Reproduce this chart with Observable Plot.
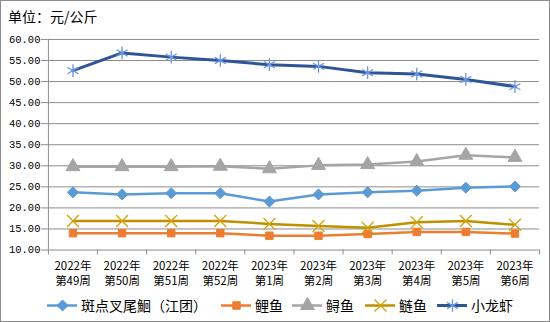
<!DOCTYPE html>
<html><head><meta charset="utf-8">
<script src="https://cdn.jsdelivr.net/npm/d3@7"></script>
<script src="https://cdn.jsdelivr.net/npm/@observablehq/plot@0.6"></script>
<style>
body{margin:0;background:#fff;}
#wrap{position:relative;width:550px;height:322px;box-sizing:border-box;border:1px solid #8c8c8c;overflow:hidden;font-family:"Noto Sans CJK SC",sans-serif;}
#chart{position:absolute;left:-1px;top:-1px;}
#title{position:absolute;left:7px;top:5px;font-size:14px;color:#000;}
#legend{position:absolute;left:0;top:294px;width:550px;height:20px;font-size:14px;color:#000;}
.item{position:absolute;top:0;display:flex;align-items:center;height:20px;}
.item svg{margin-right:4px;}
</style></head>
<body><div id="wrap"><div id="chart"></div><div id="title">单位：元/公斤</div><div id="legend"></div></div>
<script>
const weeks = ["2022年\n第49周","2022年\n第50周","2022年\n第51周","2022年\n第52周","2023年\n第1周","2023年\n第2周","2023年\n第3周","2023年\n第4周","2023年\n第5周","2023年\n第6周"];
const seriesNames = ["斑点叉尾鮰（江团）","鲤鱼","鲟鱼","鲢鱼","小龙虾"];
const catfish = [23.7,23.2,23.5,23.5,21.5,23.2,23.7,24.1,24.8,25.1];
const carp = [14.0,14.0,14.0,14.0,13.4,13.4,13.8,14.3,14.3,13.9];
const sturgeon = [29.8,29.8,29.8,29.9,29.3,30.1,30.3,31.0,32.5,32.0];
const silverCarp = [16.9,16.9,16.9,16.9,16.2,15.7,15.3,16.6,16.9,16.0];
const crayfish = [52.6,56.8,55.8,55.0,54.0,53.6,52.1,51.8,50.5,48.8];
const yTicks = [10,15,20,25,30,35,40,45,50,55,60];

const valueArrays = [catfish, carp, sturgeon, silverCarp, crayfish];
const styles = [
  {line:"#5B9BD5", mfill:"#5B9BD5", mstroke:"#5B9BD5", symbol:"diamond2", r:5, sw:2.5},
  {line:"#ED7D31", mfill:"#ED7D31", mstroke:"#ED7D31", symbol:"square", r:4.2, sw:2.5},
  {line:"#A5A5A5", mfill:"#A5A5A5", mstroke:"#A5A5A5", symbol:"triangle", r:5.2, sw:2.5},
  {line:"#BF9000", mfill:"none", mstroke:"#D4A20A", symbol:"times", r:5.5, sw:2.5},
  {line:"#2F5597", mfill:"none", mstroke:"#6A95E0", symbol:"asterisk", r:6, sw:3}
];
const data = [];
valueArrays.forEach((arr, s) => arr.forEach((v, i) => data.push({s, name: seriesNames[s], i: i + 0.5, v})));

const marks = [
  Plot.ruleY(yTicks, {y: d => d, stroke: "#8c8c8c", strokeWidth: 1, strokeOpacity: 1}),
  Plot.ruleY(yTicks, {y: d => d, x1: 0, x2: 0, insetLeft: -7, stroke: "#8c8c8c"}),
  Plot.ruleX([0], {x: d => d, stroke: "#8c8c8c", y1: 10, y2: 60}),
  Plot.ruleX(d3.range(0, 11), {x: d => d, y1: 10, y2: 10, stroke: "#8c8c8c", insetBottom: -5}),
  Plot.text(yTicks, {x: 0, y: d => d, text: d => d.toFixed(2), textAnchor: "end", dx: -8, fontSize: 10.5, fontFamily: "'Liberation Mono', 'DejaVu Sans Mono', monospace", fill: "#000"}),
  Plot.text(weeks, {x: (d, i) => i + 0.5, y: () => 10, text: d => d, dy: 23, fontSize: 11.5, lineHeight: 1.25, fill: "#000"})
];
styles.forEach((st, s) => {
  const sub = data.filter(d => d.s === s);
  marks.push(Plot.line(sub, {x: "i", y: "v", stroke: st.line, strokeWidth: st.sw, curve: "linear"}));
});
styles.forEach((st, s) => {
  const sub = data.filter(d => d.s === s);
  marks.push(Plot.dot(sub, {x: "i", y: "v", symbol: () => st.symbol, r: st.r, fill: st.mfill, stroke: st.mstroke, strokeWidth: st.mfill === "none" ? 1.3 : 1}));
});

const chart = Plot.plot({
  width: 550, height: 322,
  marginLeft: 48, marginRight: 10, marginTop: 39, marginBottom: 72,
  x: {type: "linear", domain: [0, 10], axis: null},
  y: {type: "linear", domain: [10, 60], axis: null},
  symbol: {type: "identity"},
  style: {fontFamily: "'Noto Sans CJK SC', sans-serif", background: "transparent", overflow: "visible"},
  marks
});
document.getElementById("chart").appendChild(chart);

const legendX = [46, 220, 291, 364, 436];
const leg = document.getElementById("legend");
styles.forEach((st, s) => {
  const div = document.createElement("div");
  div.className = "item";
  div.style.left = legendX[s] + "px";
  const sw = Plot.plot({
    width: 30, height: 20, margin: 0,
    x: {type: "identity", axis: null}, y: {type: "identity", axis: null},
    symbol: {type: "identity"},
    style: {background: "transparent", overflow: "visible"},
    marks: [
      Plot.ruleY([10], {y: d => d, x1: () => 0, x2: () => 30, stroke: st.line, strokeWidth: st.sw}),
      Plot.dot([0], {x: () => 15, y: () => 10, symbol: () => st.symbol, r: st.r, fill: st.mfill, stroke: st.mstroke, strokeWidth: st.mfill === "none" ? 1.3 : 1})
    ]
  });
  div.appendChild(sw);
  const span = document.createElement("span");
  span.textContent = seriesNames[s];
  div.appendChild(span);
  leg.appendChild(div);
});
</script></body></html>
